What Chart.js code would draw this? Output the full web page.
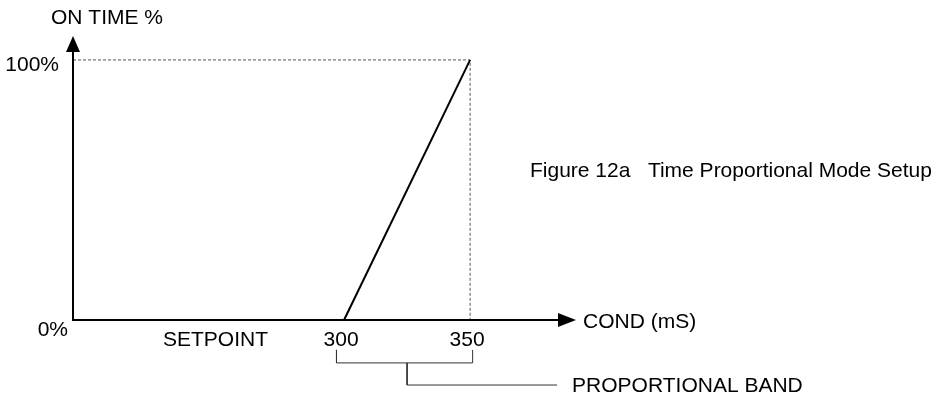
<!DOCTYPE html>
<html lang="en">
<head>
    <meta charset="UTF-8">
    <title>Time Proportional Mode Setup</title>
    <script src="https://cdn.jsdelivr.net/npm/chart.js"></script>
    <style>
        body { margin: 0; background: #fff; }
        #wrap { width: 938px; height: 398px; position: relative; }
    </style>
</head>
<body>
    <div id="wrap"><canvas id="chart"></canvas></div>

    <script>
        // chart values
        const condValues = [300, 350];          // setpoint and end of proportional band (mS)
        const onTimePct = [0, 100];             // on time at each of them
        const xTickLabels = ['300', '350'];
        const yTickLabels = ['0%', '100%'];
        const xTitle = 'COND (mS)';
        const yTitle = 'ON TIME %';
        const setpointLabel = 'SETPOINT';
        const bandLabel = 'PROPORTIONAL BAND';
        const caption = 'Figure 12a   Time Proportional Mode Setup';

        const xMin = 192.5, xMax = 392;
        const yMin = 0, yMax = 109.2;
        const FONT = '21px "Liberation Sans", Arial, sans-serif';

        const bandMid = (condValues[0] + condValues[1]) / 2;

        // axes with arrow heads, and all the text
        const drawing = {
            id: 'drawing',
            afterDatasetsDraw(chart) {
                const ctx = chart.ctx;
                const a = chart.chartArea;
                const xs = chart.scales.x, ys = chart.scales.y;
                ctx.save();
                ctx.strokeStyle = '#000';
                ctx.fillStyle = '#000';
                ctx.lineWidth = 2;

                // y axis
                ctx.beginPath();
                ctx.moveTo(a.left, a.bottom + 1);
                ctx.lineTo(a.left, a.top + 12);
                ctx.stroke();
                ctx.beginPath();
                ctx.moveTo(a.left, a.top);
                ctx.lineTo(a.left - 7, a.top + 16);
                ctx.lineTo(a.left + 7, a.top + 16);
                ctx.closePath();
                ctx.fill();

                // x axis
                ctx.beginPath();
                ctx.moveTo(a.left - 1, a.bottom);
                ctx.lineTo(a.right - 14, a.bottom);
                ctx.stroke();
                ctx.beginPath();
                ctx.moveTo(a.right, a.bottom);
                ctx.lineTo(a.right - 18, a.bottom - 7);
                ctx.lineTo(a.right - 18, a.bottom + 7);
                ctx.closePath();
                ctx.fill();

                ctx.font = FONT;
                ctx.textBaseline = 'middle';

                // y tick labels
                ctx.textAlign = 'right';
                ctx.fillText(yTickLabels[0], a.left - 5, ys.getPixelForValue(onTimePct[0]) + 10);
                ctx.fillText(yTickLabels[1], a.left - 14, ys.getPixelForValue(onTimePct[1]) + 5);

                // x tick labels
                ctx.textAlign = 'center';
                xTickLabels.forEach((t, i) => {
                    ctx.fillText(t, xs.getPixelForValue(condValues[i]) - 3, a.bottom + 20);
                });
                ctx.fillText(setpointLabel, xs.getPixelForValue(249), a.bottom + 20);

                // titles
                ctx.textAlign = 'left';
                ctx.fillText(yTitle, 51, 18);
                ctx.fillText(xTitle, a.right + 7, a.bottom + 2);
                ctx.fillText(bandLabel, xs.getPixelForValue(384.5) + 15, ys.getPixelForValue(-25) + 1);
                ctx.fillText(caption, 530, 171);

                ctx.restore();
            }
        };

        const ctx = document.getElementById('chart').getContext('2d');
        const chart = new Chart(ctx, {
            type: 'line',
            data: {
                datasets: [
                    {
                        // ramp
                        data: condValues.map((c, i) => ({ x: c, y: onTimePct[i] })),
                        borderColor: '#000',
                        borderWidth: 2,
                        pointRadius: 0,
                        clip: false
                    },
                    {
                        // dotted guides to 100% and 350
                        data: [
                            { x: xMin, y: onTimePct[1] },
                            { x: condValues[1], y: onTimePct[1] },
                            { x: condValues[1], y: onTimePct[0] }
                        ],
                        borderColor: '#555',
                        borderWidth: 1,
                        borderDash: [3, 2],
                        pointRadius: 0,
                        clip: false
                    },
                    {
                        // bracket under the band
                        data: [
                            { x: condValues[0] - 3, y: -11.5 },
                            { x: condValues[0] - 3, y: -16.5 },
                            { x: condValues[1] + 1, y: -16.5 },
                            { x: condValues[1] + 1, y: -11.5 }
                        ],
                        borderColor: '#333',
                        borderWidth: 1,
                        pointRadius: 0,
                        clip: false
                    },
                    {
                        // leader to band label
                        data: [
                            { x: bandMid, y: -16.5 },
                            { x: bandMid, y: -25 },
                            { x: 384.5, y: -25 }
                        ],
                        borderColor: '#333',
                        borderWidth: 1,
                        pointRadius: 0,
                        clip: false
                    }
                ]
            },
            options: {
                responsive: true,
                maintainAspectRatio: false,
                animation: false,
                layout: { padding: { left: 73, right: 362, top: 36, bottom: 78 } },
                scales: {
                    x: { type: 'linear', min: xMin, max: xMax, display: false },
                    y: { type: 'linear', min: yMin, max: yMax, display: false }
                },
                plugins: {
                    legend: { display: false },
                    tooltip: { enabled: false }
                },
                elements: { line: { tension: 0 } }
            },
            plugins: [drawing]
        });
    </script>
</body>
</html>
